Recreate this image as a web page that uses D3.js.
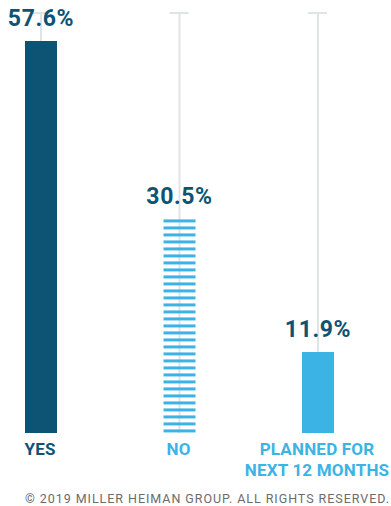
<!DOCTYPE html>
<html>
<head>
<meta charset="utf-8">
<script src="https://cdn.jsdelivr.net/npm/d3@7"></script>
<style>
  body { margin: 0; background: #fff; }
  svg { display: block; }
</style>
</head>
<body>
<svg id="chart"></svg>
<script>
// data
var categories = ["YES", "NO", "PLANNED FOR|NEXT 12 MONTHS"];
var values = [57.6, 30.5, 11.9];
var valueLabels = ["57.6%", "30.5%", "11.9%"];
var footnote = "\u00A9 2019 MILLER HEIMAN GROUP. ALL RIGHTS RESERVED.";

var W = 391, H = 506;
var dark = "#0d5474", light = "#3bb4e5", grid = "#dfe4e6";

var svg = d3.select("#chart").attr("width", W).attr("height", H);

var x = d3.scalePoint().domain(categories).range([41, 318]);
var y = d3.scaleLinear().domain([0, 57.6]).range([433, 41]);
var barW = 32;
var guideTop = 13;

// guide lines with little T caps
var guides = svg.append("g");
categories.forEach(function(c) {
  guides.append("line")
    .attr("x1", x(c)).attr("x2", x(c))
    .attr("y1", guideTop).attr("y2", y(0))
    .attr("stroke", grid).attr("stroke-width", 2);
  guides.append("line")
    .attr("x1", x(c) - 10).attr("x2", x(c) + 9)
    .attr("y1", guideTop).attr("y2", guideTop)
    .attr("stroke", grid).attr("stroke-width", 2);
});

// solid bars (yes, planned)
svg.selectAll(".bar").data([0, 2]).enter()
  .append("rect").attr("class", "bar")
  .attr("x", function(i) { return x(categories[i]) - barW / 2; })
  .attr("y", function(i) { return y(values[i]); })
  .attr("width", barW)
  .attr("height", function(i) { return y(0) - y(values[i]); })
  .attr("fill", function(i) { return i == 0 ? dark : light; });

// striped bar (no)
var noTop = y(values[1]) - 6;
var stripes = d3.range(noTop, y(0) - 1, 7);
svg.selectAll(".stripe").data(stripes).enter()
  .append("rect").attr("class", "stripe")
  .attr("x", x(categories[1]) - barW / 2)
  .attr("y", function(d) { return d; })
  .attr("width", barW)
  .attr("height", 3)
  .attr("fill", light);

// value labels
var labelTops = [y(values[0]), noTop, y(values[2])];
svg.selectAll(".val").data(valueLabels).enter()
  .append("text").attr("class", "val")
  .attr("x", function(d, i) { return x(categories[i]); })
  .attr("y", function(d, i) { return labelTops[i] - 15; })
  .attr("text-anchor", "middle")
  .attr("font-family", "Roboto, sans-serif")
  .attr("font-weight", "bold")
  .attr("font-size", 23)
  .attr("letter-spacing", 0.6)
  .attr("fill", dark)
  .text(function(d) { return d; });

// category labels
var cats = svg.selectAll(".cat").data(categories).enter()
  .append("text").attr("class", "cat")
  .attr("x", function(d) { return x(d); })
  .attr("y", 455)
  .attr("text-anchor", "middle")
  .attr("font-family", "Roboto, sans-serif")
  .attr("font-weight", "bold")
  .attr("font-size", 17)
  .attr("letter-spacing", 0.2)
  .attr("fill", function(d, i) { return i == 0 ? dark : light; });
cats.each(function(d) {
  var parts = d.split("|");
  var t = d3.select(this);
  parts.forEach(function(p, j) {
    t.append("tspan").attr("x", x(d) - 1).attr("dy", j == 0 ? 0 : 21).text(p);
  });
});

// footnote
svg.append("text")
  .attr("x", 390).attr("y", 503)
  .attr("text-anchor", "end")
  .attr("font-family", "Roboto, sans-serif")
  .attr("font-size", 12.5)
  .attr("letter-spacing", 0.95)
  .attr("fill", "#6b6b6b")
  .text(footnote);
</script>
</body>
</html>
